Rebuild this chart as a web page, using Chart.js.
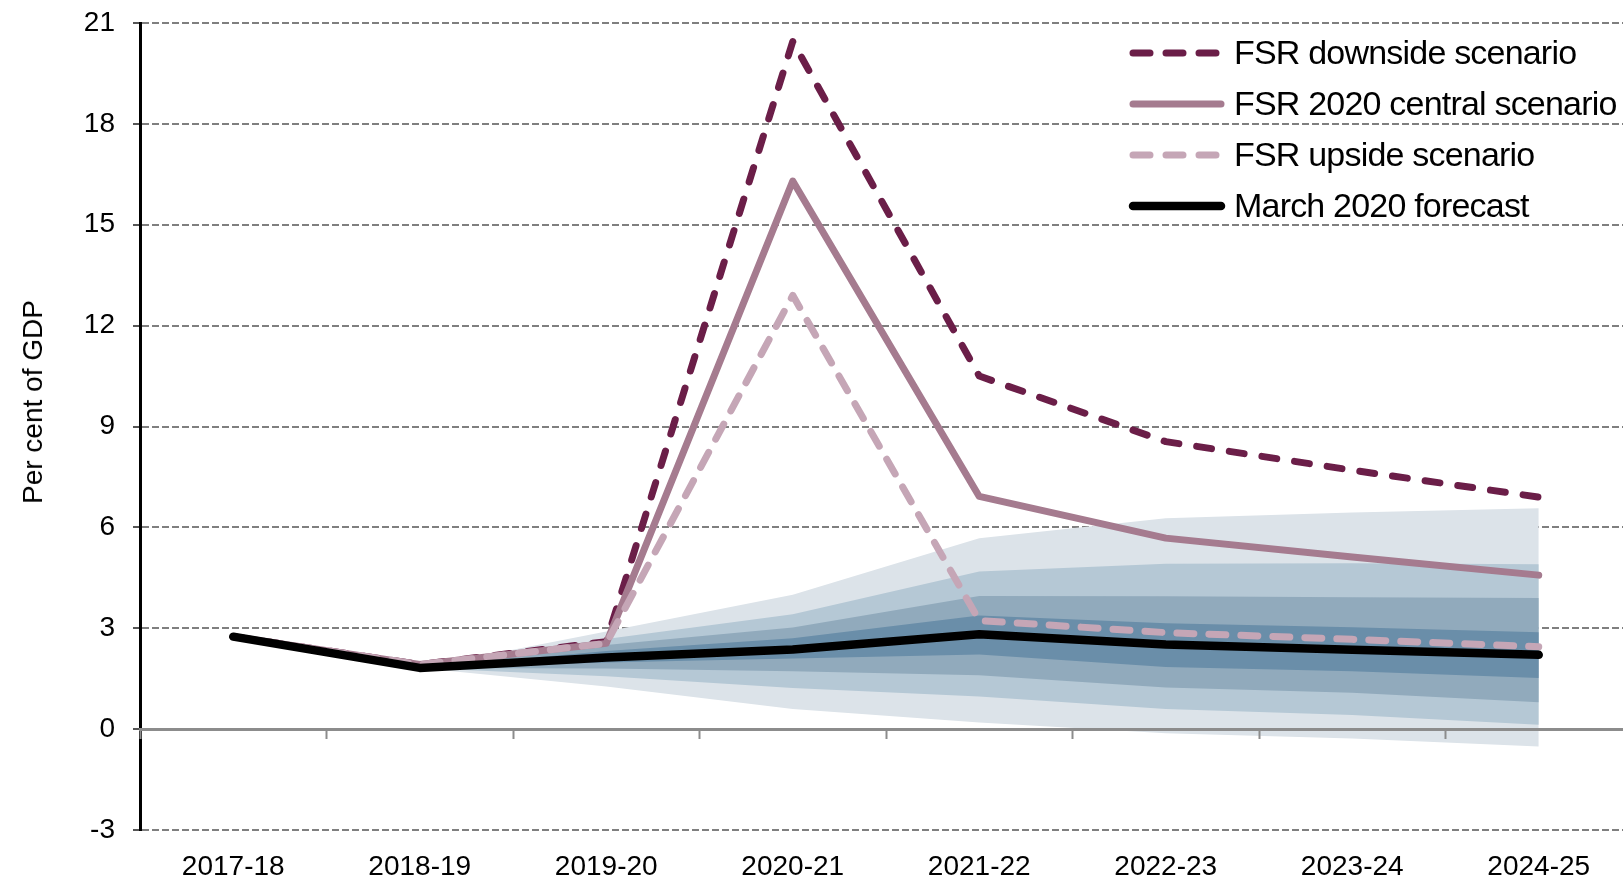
<!DOCTYPE html>
<html>
<head>
<meta charset="utf-8">
<script src="https://cdn.jsdelivr.net/npm/chart.js@4.4.1/dist/chart.umd.min.js"></script>
<style>
  html, body { margin: 0; padding: 0; background: #fff; overflow: hidden; }
  #wrap { position: relative; width: 1640px; height: 883px; }
  #legend {
    position: absolute; left: 1128px; top: 27px;
    font-family: 'Liberation Sans', Arial, sans-serif; font-size: 34px;
    letter-spacing: -0.8px; color: #000;
  }
  .row { display: flex; align-items: center; height: 51px; white-space: nowrap; }
  .row svg { width: 98px; height: 12px; margin-right: 8px; flex: none; }
  #ytitle {
    position: absolute; left: 33px; top: 402px;
    transform: translate(-50%, -50%) rotate(-90deg);
    font: 28px 'Liberation Sans', Arial, sans-serif; white-space: nowrap; color: #000;
  }
</style>
</head>
<body>
<div id="wrap">
  <canvas id="debtChart"></canvas>
  <div id="ytitle">Per cent of GDP</div>
  <div id="legend"></div>
</div>
<script>
const FONT = "'Liberation Sans', Arial, sans-serif";

// categories
const years = ['2017-18', '2018-19', '2019-20', '2020-21', '2021-22', '2022-23', '2023-24', '2024-25'];

// line series (per cent of GDP)
const march2020 = [2.75, 1.82, 2.13, 2.37, 2.82, 2.52, 2.36, 2.21];
const fsrDownside = [2.75, 1.92, 2.6, 20.45, 10.5, 8.55, 7.7, 6.9];
const fsrCentral = [2.75, 1.92, 2.55, 16.3, 6.92, 5.68, 5.12, 4.58];
const fsrUpside = [2.75, 1.92, 2.55, 12.9, 3.23, 2.87, 2.67, 2.45];

// fan chart band edges, outermost to innermost
const fanOuterHigh = [null, 1.82, 2.9, 4.0, 5.68, 6.27, 6.44, 6.57];
const fanOuterLow  = [null, 1.82, 1.27, 0.6, 0.2, -0.12, -0.28, -0.52];
const fanMidHigh   = [null, 1.82, 2.68, 3.42, 4.69, 4.92, 4.93, 4.9];
const fanMidLow    = [null, 1.82, 1.57, 1.22, 0.97, 0.6, 0.42, 0.13];
const fanInnerHigh = [null, 1.82, 2.5, 3.02, 3.96, 3.95, 3.92, 3.9];
const fanInnerLow  = [null, 1.82, 1.8, 1.72, 1.6, 1.24, 1.08, 0.8];
const fanCoreHigh  = [null, 1.82, 2.32, 2.7, 3.38, 3.15, 3.03, 2.88];
const fanCoreLow   = [null, 1.82, 1.98, 2.1, 2.22, 1.85, 1.72, 1.52];

// y axis range / step
const yMin = -3, yMax = 21, yStep = 3;

const lineSeries = [
  { label: 'March 2020 forecast', data: march2020, color: '#000000', width: 8.5, dash: [] },
  { label: 'FSR upside scenario', data: fsrUpside, color: '#c5a6b6', width: 7, dash: [17, 15] },
  { label: 'FSR 2020 central scenario', data: fsrCentral, color: '#a57b8f', width: 7, dash: [] },
  { label: 'FSR downside scenario', data: fsrDownside, color: '#6b1e48', width: 7, dash: [15, 18] },
];

function edge(data, fill, bg) {
  return {
    label: '', data, fill, backgroundColor: bg,
    borderWidth: 0, borderColor: 'rgba(0,0,0,0)', pointRadius: 0, tension: 0,
  };
}

const datasets = lineSeries.map(s => ({
  label: s.label,
  data: s.data,
  borderColor: s.color,
  backgroundColor: s.color,
  borderWidth: s.width,
  borderDash: s.dash,
  borderCapStyle: 'round',
  borderJoinStyle: 'round',
  pointRadius: 0,
  tension: 0,
  fill: false,
})).concat([
  edge(fanCoreHigh, '+1', '#6a8ea9'),
  edge(fanCoreLow, false),
  edge(fanInnerHigh, '+1', '#91aabc'),
  edge(fanInnerLow, false),
  edge(fanMidHigh, '+1', '#b5c8d5'),
  edge(fanMidLow, false),
  edge(fanOuterHigh, '+1', '#dce3e9'),
  edge(fanOuterLow, false),
]);

new Chart(document.getElementById('debtChart'), {
  type: 'line',
  data: { labels: years, datasets },
  options: {
    responsive: true,
    maintainAspectRatio: false,
    animation: false,
    layout: { padding: { left: 12, right: 8, top: 23, bottom: 0 } },
    plugins: {
      legend: { display: false },
      tooltip: { enabled: false },
    },
    scales: {
      x: {
        type: 'category',
        offset: true,
        grid: { display: false, drawTicks: false },
        border: { display: false },
        ticks: { color: '#000', padding: 20, font: { size: 28, family: FONT } },
        afterFit: scale => { scale.height = 53; },
      },
      // zero line with its small tick marks between the years
      x0: {
        type: 'category',
        axis: 'x',
        position: { y: 0 },
        offset: true,
        ticks: { display: false },
        grid: {
          offset: true, drawOnChartArea: false, drawTicks: true,
          tickLength: 8, tickWidth: 2, tickColor: '#8c8c8c', color: '#8c8c8c', z: 1,
        },
        border: { display: true, color: '#8c8c8c', width: 3, z: 1 },
        afterFit: scale => { scale.height = 0; },
      },
      y: {
        min: yMin,
        max: yMax,
        ticks: { stepSize: yStep, padding: 18, color: '#000', font: { size: 28, family: FONT } },
        grid: { color: '#7f7f7f', lineWidth: 2, tickLength: 7, tickWidth: 2, tickColor: '#555' },
        border: {
          color: '#000', width: 3,
          dash: ctx => (ctx.tick && ctx.tick.value !== 0 ? [7, 3] : []),
        },
        afterFit: scale => {
          scale.width = 128;
          scale.paddingTop = 17;
          scale.paddingBottom = 17;
        },
      },
    },
  },
});

// legend in the order of the reference
const legendOrder = ['FSR downside scenario', 'FSR 2020 central scenario', 'FSR upside scenario', 'March 2020 forecast'];
const legendEl = document.getElementById('legend');
legendOrder.forEach(name => {
  const s = lineSeries.find(d => d.label === name);
  const row = document.createElement('div');
  row.className = 'row';
  const dash = s.dash.length ? ' stroke-dasharray="17 16"' : '';
  row.innerHTML =
    `<svg viewBox="0 0 98 12"><line x1="5" y1="6" x2="93" y2="6" stroke="${s.color}" stroke-width="${s.width}" stroke-linecap="round"${dash}/></svg>` +
    `<span>${s.label}</span>`;
  legendEl.appendChild(row);
});
</script>
</body>
</html>
